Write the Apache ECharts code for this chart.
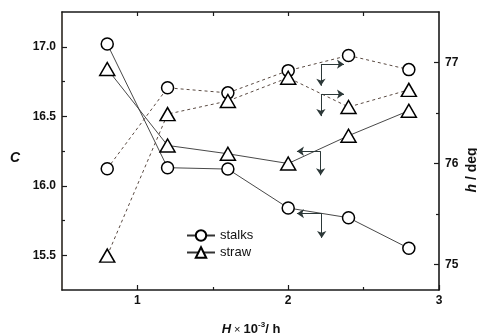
<!DOCTYPE html>
<html><head><meta charset="utf-8">
<script src="https://cdn.jsdelivr.net/npm/echarts@6/dist/echarts.min.js"></script>
<style>html,body{margin:0;padding:0;background:#fff}#c{width:477px;height:335px}</style>
</head><body><div id="c"></div>
<script>
const xValues = [0.8, 1.2, 1.6, 2.0, 2.4, 2.8];
const stalksC = [17.02, 16.13, 16.12, 15.84, 15.77, 15.55];
const strawC = [16.84, 16.29, 16.23, 16.16, 16.36, 16.54];
const stalksH = [75.95, 76.75, 76.70, 76.92, 77.07, 76.93];
const strawH = [75.09, 76.49, 76.62, 76.85, 76.56, 76.73];
const xMajorTicks = [1, 2, 3];
const xMinorTicks = [1.5, 2.5];
const xTopTicks = [1, 1.5, 2, 2.5];
const cMajorTicks = [15.5, 16.0, 16.5, 17.0];
const cMinorTicks = [15.75, 16.25, 16.75];
const hMajorTicks = [75, 76, 77];
const hMinorTicks = [75.5, 76.5];
// annotation arrows in data units: [x0, y0, x1, y1]
const arrowsC = [
  [2.215, 16.248, 2.058, 16.248], [2.215, 16.248, 2.215, 16.075],
  [2.222, 15.80, 2.058, 15.80], [2.222, 15.80, 2.222, 15.625]
];
const arrowsH = [
  [2.217, 76.984, 2.37, 76.984], [2.217, 76.984, 2.217, 76.77],
  [2.217, 76.688, 2.37, 76.688], [2.217, 76.688, 2.217, 76.47]
];

const zip = (xs, ys) => xs.map((x, i) => [x, ys[i]]);
const toML = arr => arr.map(a => [{coord: [a[0], a[1]]}, {coord: [a[2], a[3]]}]);

const axisCol = '#1a1a1a';
const lblStyle = {color: '#111', fontFamily: 'Liberation Sans, Arial', fontWeight: 'bold', fontSize: 12};

const chart = echarts.init(document.getElementById('c'), null, {renderer: 'canvas'});
const grid = {left: 62, right: 38, top: 12, bottom: 45};

const markLineBase = (data) => ({
  silent: true, symbol: ['none', 'arrow'], symbolSize: 7, animation: false,
  label: {show: false}, emphasis: {disabled: true},
  lineStyle: {color: '#2c3838', width: 1, type: 'solid'},
  data: data
});

const circleStyle = {color: '#fff', borderColor: '#000', borderWidth: 1.5};
const solidLine = {color: '#333', width: 0.9};
const dashLine = {color: '#5a4a42', width: 1, type: [3, 3]};

chart.setOption({
  animation: false,
  grid: grid,
  legend: {
    orient: 'vertical', left: 186, top: 229, itemWidth: 28, itemHeight: 13, itemGap: 4, padding: 0,
    textStyle: {color: '#111', fontFamily: 'Liberation Sans, Arial', fontSize: 13},
    data: ['stalks', 'straw']
  },
  xAxis: [
    {type: 'value', position: 'bottom', min: 0.5, max: 3,
     axisLine: {show: true, lineStyle: {color: axisCol, width: 1.6}},
     axisTick: {show: true, inside: true, length: 5, customValues: xMajorTicks, lineStyle: {color: axisCol, width: 1.2}},
     axisLabel: Object.assign({customValues: xMajorTicks, margin: 5, formatter: v => String(v)}, lblStyle),
     splitLine: {show: false}},
    {type: 'value', position: 'bottom', min: 0.5, max: 3,
     axisLine: {show: false},
     axisTick: {show: true, inside: true, length: 3, customValues: xMinorTicks, lineStyle: {color: axisCol, width: 1.2}},
     axisLabel: {show: false}, splitLine: {show: false}},
    {type: 'value', position: 'top', min: 0.5, max: 3,
     axisLine: {show: true, lineStyle: {color: axisCol, width: 1.6}},
     axisTick: {show: true, inside: true, length: 4, customValues: xTopTicks, lineStyle: {color: axisCol, width: 1.2}},
     axisLabel: {show: false}, splitLine: {show: false}}
  ],
  yAxis: [
    {type: 'value', position: 'left', min: 15.25, max: 17.25,
     axisLine: {show: true, lineStyle: {color: '#2b2620', width: 1.6}},
     axisTick: {show: true, inside: true, length: 5, customValues: cMajorTicks, lineStyle: {color: axisCol, width: 1.2}},
     axisLabel: Object.assign({customValues: cMajorTicks, margin: 6, formatter: v => v.toFixed(1)}, lblStyle),
     splitLine: {show: false}},
    {type: 'value', position: 'left', min: 15.25, max: 17.25,
     axisLine: {show: false},
     axisTick: {show: true, inside: true, length: 3, customValues: cMinorTicks, lineStyle: {color: axisCol, width: 1.2}},
     axisLabel: {show: false}, splitLine: {show: false}},
    {type: 'value', position: 'right', min: 74.75, max: 77.5,
     axisLine: {show: true, lineStyle: {color: axisCol, width: 1.6}},
     axisTick: {show: true, inside: true, length: 5, customValues: hMajorTicks, lineStyle: {color: axisCol, width: 1.2}},
     axisLabel: Object.assign({customValues: hMajorTicks, margin: 6, formatter: v => String(v)}, lblStyle),
     splitLine: {show: false}},
    {type: 'value', position: 'right', min: 74.75, max: 77.5,
     axisLine: {show: false},
     axisTick: {show: true, inside: true, length: 3, customValues: hMinorTicks, lineStyle: {color: axisCol, width: 1.2}},
     axisLabel: {show: false}, splitLine: {show: false}}
  ],
  series: [
    {name: 'stalks', type: 'line', xAxisIndex: 0, yAxisIndex: 0, data: zip(xValues, stalksC),
     symbol: 'circle', symbolSize: 12, lineStyle: solidLine, itemStyle: circleStyle,
     emphasis: {disabled: true}, markLine: markLineBase(toML(arrowsC))},
    {name: 'straw', type: 'line', xAxisIndex: 0, yAxisIndex: 0, data: zip(xValues, strawC),
     symbol: 'triangle', symbolSize: [15, 13], lineStyle: solidLine, itemStyle: circleStyle,
     emphasis: {disabled: true}},
    {name: 'stalks', type: 'line', xAxisIndex: 0, yAxisIndex: 2, data: zip(xValues, stalksH),
     symbol: 'circle', symbolSize: 12, lineStyle: dashLine, itemStyle: circleStyle,
     emphasis: {disabled: true}, markLine: markLineBase(toML(arrowsH))},
    {name: 'straw', type: 'line', xAxisIndex: 0, yAxisIndex: 2, data: zip(xValues, strawH),
     symbol: 'triangle', symbolSize: [15, 13], lineStyle: dashLine, itemStyle: circleStyle,
     emphasis: {disabled: true}}
  ],
  graphic: [
    {type: 'text', left: 10, top: 151, style: {text: 'C', fill: '#111', font: 'italic bold 14px "Liberation Sans", Arial'}},
    {type: 'text', x: 251, y: 328, style: {
      text: '{i|H}{n| × }{b|10}{s|-3}{b|/ h}', align: 'center', verticalAlign: 'middle',
      rich: {
        i: {fontFamily: 'Liberation Sans, Arial', fontStyle: 'italic', fontWeight: 'bold', fontSize: 13, fill: '#111', verticalAlign: 'bottom', lineHeight: 15},
        n: {fontFamily: 'Liberation Sans, Arial', fontSize: 11, fill: '#111', verticalAlign: 'bottom', lineHeight: 15},
        b: {fontFamily: 'Liberation Sans, Arial', fontWeight: 'bold', fontSize: 13, fill: '#111', verticalAlign: 'bottom', lineHeight: 15},
        s: {fontFamily: 'Liberation Sans, Arial', fontWeight: 'bold', fontSize: 8, fill: '#111', verticalAlign: 'top', lineHeight: 15}
      }}},
    {type: 'text', x: 472, y: 170, rotation: Math.PI / 2, style: {
      text: '{i|h}{b| / deg}', align: 'center', verticalAlign: 'middle',
      rich: {
        i: {fontFamily: 'Liberation Sans, Arial', fontStyle: 'italic', fontWeight: 'bold', fontSize: 14, fill: '#111'},
        b: {fontFamily: 'Liberation Sans, Arial', fontWeight: 'bold', fontSize: 14, fill: '#111'}
      }}}
  ]
});
</script></body></html>
